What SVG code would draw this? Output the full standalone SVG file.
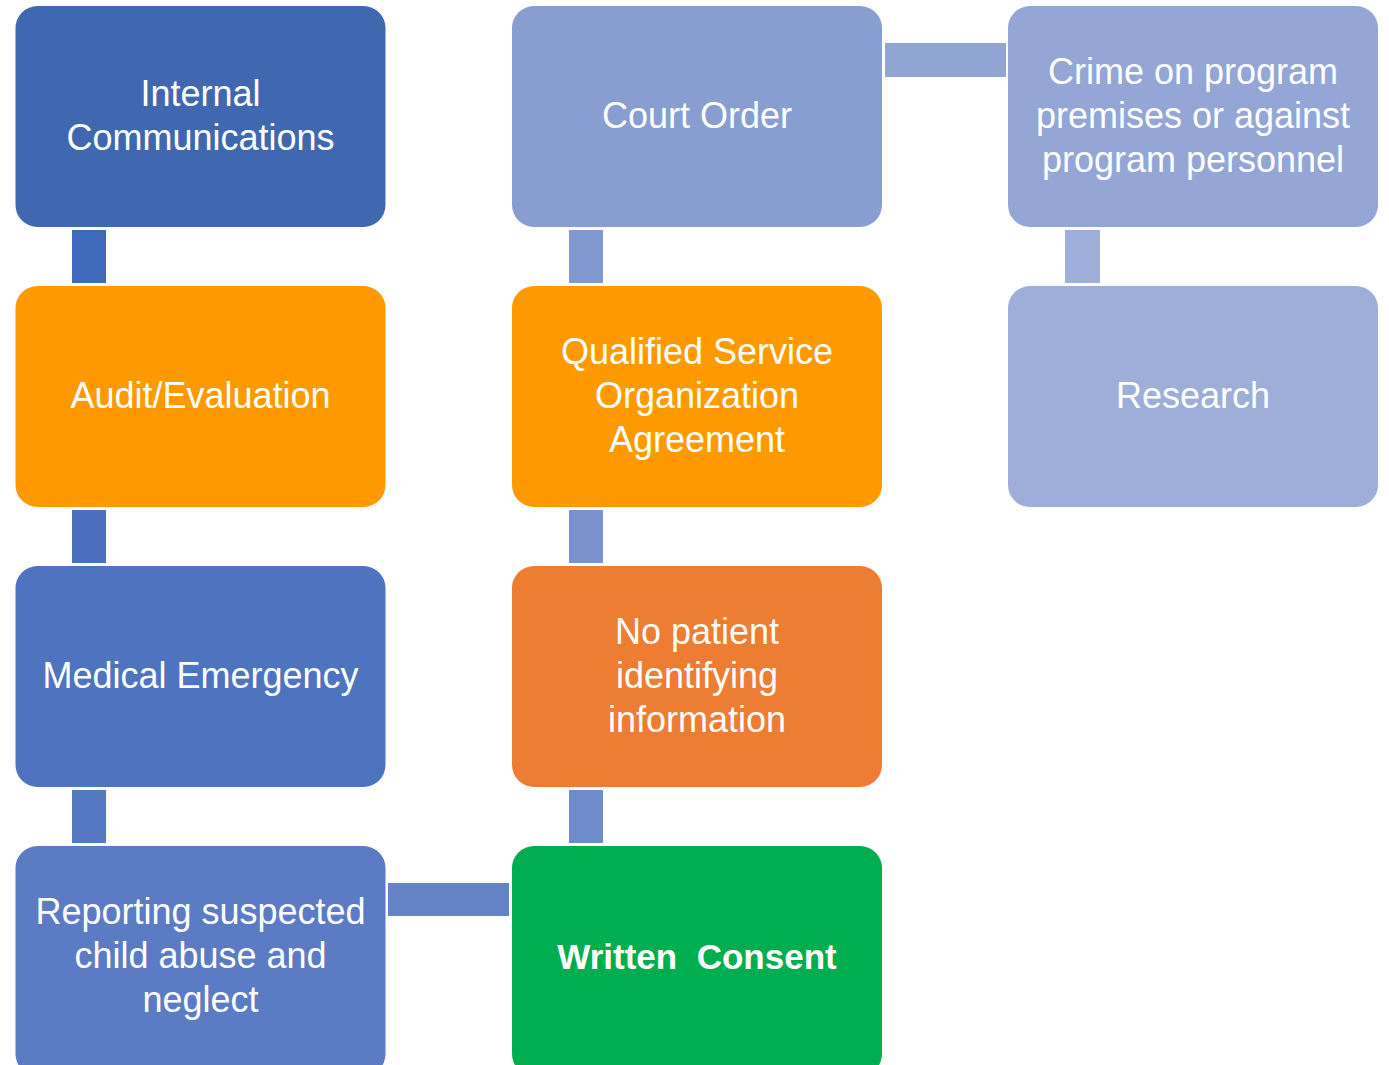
<svg xmlns="http://www.w3.org/2000/svg" width="1389" height="1065" viewBox="0 0 1389 1065">
<style>
.box{stroke:none}
.t{font-family:"Liberation Sans",Arial,sans-serif;font-size:36px;fill:#ffffff;text-anchor:middle}
.b{font-weight:bold;font-size:35px}
</style>
<rect width="1389" height="1065" fill="#ffffff"/>
<g id="connectors">
<rect x="72" y="230" width="34" height="53" fill="#3F69BA"/>
<rect x="72" y="510" width="34" height="53" fill="#4A70BD"/>
<rect x="72" y="790" width="34" height="53" fill="#5578C2"/>
<rect x="388" y="883" width="121" height="33" fill="#6483C6"/>
<rect x="569" y="230" width="34" height="53" fill="#8099D0"/>
<rect x="569" y="510" width="34" height="53" fill="#7A93CE"/>
<rect x="569" y="790" width="34" height="53" fill="#6E8BCA"/>
<rect x="885" y="43" width="121" height="34" fill="#91A5D4"/>
<rect x="1065" y="230" width="35" height="53" fill="#9DAED8"/>
</g>
<g id="n-internal">
<rect class="box" x="15.5" y="6" width="370" height="221" rx="22" fill="#3F68B0"/>
<text class="t" x="200.5" y="106">Internal</text>
<text class="t" x="200.5" y="150">Communications</text>
</g>
<g id="n-audit">
<rect class="box" x="15.5" y="286" width="370" height="221" rx="22" fill="#FE9900"/>
<text class="t" x="200.5" y="408">Audit/Evaluation</text>
</g>
<g id="n-medical">
<rect class="box" x="15.5" y="566" width="370" height="221" rx="22" fill="#4E74C0"/>
<text class="t" x="200.5" y="688">Medical Emergency</text>
</g>
<g id="n-reporting">
<rect class="box" x="15.5" y="846" width="370" height="230" rx="22" fill="#5B7CC4"/>
<text class="t" x="200.5" y="924">Reporting suspected</text>
<text class="t" x="200.5" y="968">child abuse and</text>
<text class="t" x="200.5" y="1012">neglect</text>
</g>
<g id="n-court">
<rect class="box" x="512" y="6" width="370" height="221" rx="22" fill="#889ED1"/>
<text class="t" x="697" y="128">Court Order</text>
</g>
<g id="n-qsoa">
<rect class="box" x="512" y="286" width="370" height="221" rx="22" fill="#FE9900"/>
<text class="t" x="697" y="364">Qualified Service</text>
<text class="t" x="697" y="408">Organization</text>
<text class="t" x="697" y="452">Agreement</text>
</g>
<g id="n-nopatient">
<rect class="box" x="512" y="566" width="370" height="221" rx="22" fill="#ED7D32"/>
<text class="t" x="697" y="644">No patient</text>
<text class="t" x="697" y="688">identifying</text>
<text class="t" x="697" y="732">information</text>
</g>
<g id="n-written">
<rect class="box" x="512" y="846" width="370" height="230" rx="22" fill="#00AE4F"/>
<text class="t b" x="697" y="969" xml:space="preserve" style="white-space:pre">Written  Consent</text>
</g>
<g id="n-crime">
<rect class="box" x="1008" y="6" width="370" height="221" rx="22" fill="#93A6D5"/>
<text class="t" x="1193" y="84">Crime on program</text>
<text class="t" x="1193" y="128">premises or against</text>
<text class="t" x="1193" y="172">program personnel</text>
</g>
<g id="n-research">
<rect class="box" x="1008" y="286" width="370" height="221" rx="22" fill="#9DAED8"/>
<text class="t" x="1193" y="408">Research</text>
</g>
</svg>
